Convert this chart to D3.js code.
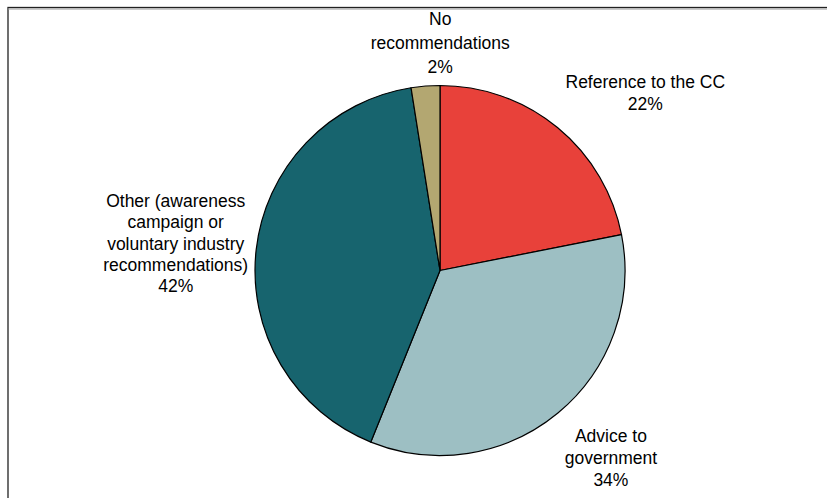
<!DOCTYPE html>
<html>
<head>
<meta charset="utf-8">
<script src="https://cdn.jsdelivr.net/npm/d3@7"></script>
<style>
  html, body { margin: 0; padding: 0; background: #fff; }
  svg { display: block; }
</style>
</head>
<body>
<svg id="chart" width="827" height="498"></svg>
<script>
// ---- data ----
const categories = ["Reference to the CC", "Advice to government", "Other (awareness campaign or voluntary industry recommendations)", "No recommendations"];
const values = [21.9, 34.2, 41.4, 2.5];
const percentLabels = ["22%", "34%", "42%", "2%"];
const labelLines = [
  ["Reference to the CC"],
  ["Advice to", "government"],
  ["Other (awareness", "campaign or", "voluntary industry", "recommendations)"],
  ["No", "recommendations"]
];
const colors = ["#E8413A", "#9DBFC3", "#17646E", "#B3A771"];

// ---- layout ----
const W = 827, H = 498;
const cx = 440, cy = 270.5, R = 185, labelR = 265;
const labelOffsets = [[37, 22], [2, -33], [-1, -33.5], [21, 18.7]];
const lineGaps = [22, 22, 21.3, 24];

const svg = d3.select("#chart");

// frame
svg.append("rect").attr("x", 8).attr("y", 7.5).attr("width", W).attr("height", H)
  .attr("fill", "none").attr("stroke", "#222").attr("stroke-width", 1.3);
svg.append("line").attr("x1", 8).attr("x2", W).attr("y1", 9).attr("y2", 9)
  .attr("stroke", "#999").attr("stroke-width", 1);

const pie = d3.pie().sort(null).value(d => d)(values);
const arc = d3.arc().innerRadius(0).outerRadius(R);
const labelArc = d3.arc().innerRadius(labelR).outerRadius(labelR);

const g = svg.append("g").attr("transform", `translate(${cx},${cy})`);
g.selectAll("path").data(pie).join("path")
  .attr("d", arc)
  .attr("fill", (d, i) => colors[i])
  .attr("stroke", "#000")
  .attr("stroke-width", 1.2)
  .attr("stroke-linejoin", "round");

pie.forEach((d, i) => {
  const [x, y] = labelArc.centroid(d);
  const lx = x + labelOffsets[i][0], ly = y + labelOffsets[i][1];
  const lines = labelLines[i].concat([percentLabels[i]]);
  const t = g.append("text")
    .attr("text-anchor", "middle")
    .attr("font-family", "Liberation Sans, Arial, sans-serif")
    .attr("font-size", "17.5px")
    .attr("fill", "#000");
  lines.forEach((ln, k) => {
    t.append("tspan").attr("x", lx).attr("y", ly + k * lineGaps[i]).text(ln);
  });
});
</script>
</body>
</html>
